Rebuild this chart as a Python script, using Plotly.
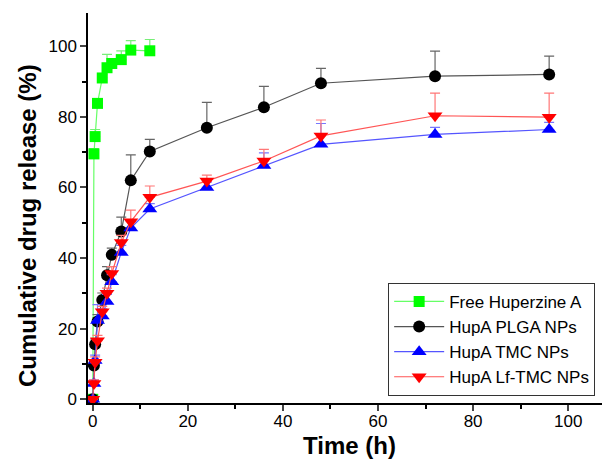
import plotly.graph_objects as go

# ---- data ----
times_free = [0, 0.25, 0.5, 1, 2, 3, 4, 6, 8, 12]
free_huperzine = [0, 69.5, 74.4, 83.8, 91.0, 93.9, 95.1, 96.2, 98.9, 98.7]
free_err = [0, 1.5, 2.0, 1.0, 1.0, 3.8, 1.0, 2.5, 2.7, 3.2]

times_np = [0, 0.25, 0.5, 1, 2, 3, 4, 6, 8, 12, 24, 36, 48, 72, 96]
plga = [0, 9.6, 15.6, 22.0, 28.1, 35.1, 40.9, 47.5, 62.0, 70.2, 76.9, 82.7, 89.5, 91.5, 92.0]
plga_err = [0, 1.0, 1.5, 2.0, 2.0, 2.5, 1.9, 4.1, 7.2, 3.4, 7.2, 5.9, 4.2, 7.1, 5.2]
tmc = [0, 4.5, 11.0, 22.3, 23.6, 27.7, 33.3, 41.6, 48.5, 53.9, 60.0, 66.2, 72.2, 75.0, 76.4]
tmc_err = [0, 1.0, 1.5, 4.5, 2.0, 2.0, 2.0, 2.0, 2.0, 1.5, 1.5, 3.6, 5.9, 2.0, 2.0]
lf_tmc = [0, 4.5, 10.5, 16.6, 24.8, 30.0, 35.6, 44.4, 50.3, 57.2, 61.8, 67.5, 74.6, 80.3, 79.9]
lf_tmc_err = [0, 1.0, 1.5, 1.5, 1.5, 1.5, 2.0, 2.0, 3.3, 3.2, 1.7, 3.3, 4.5, 6.4, 6.8]

series_names = ["Free Huperzine A", "HupA PLGA NPs", "HupA TMC NPs", "HupA Lf-TMC NPs"]
x_ticks = [0, 20, 40, 60, 80, 100]
y_ticks = [0, 20, 40, 60, 80, 100]
x_title = "Time (h)"
y_title = "Cumulative drug release (%)"

FONT = "Liberation Sans, Arial, sans-serif"

fig = go.Figure()

def add(x, y, err, name, marker_color, line_color, err_color, symbol, size):
    fig.add_trace(go.Scatter(
        x=x, y=y, name=name, mode="lines+markers",
        line=dict(color=line_color, width=1.2),
        marker=dict(color=marker_color, symbol=symbol, size=size, line=dict(width=0)),
        error_y=dict(type="data", symmetric=False, array=err, arrayminus=[0] * len(err),
                     color=err_color, thickness=1.2, width=5),
    ))

add(times_free, free_huperzine, free_err, series_names[0], "#00ff00", "#66ff66", "#77ee77", "square", 11)
add(times_np, plga, plga_err, series_names[1], "#000000", "#555555", "#666666", "circle", 12)
add(times_np, tmc, tmc_err, series_names[2], "#0000ff", "#5555ff", "#7777ff", "triangle-up", 13)
add(times_np, lf_tmc, lf_tmc_err, series_names[3], "#ff0000", "#ff5555", "#ff7777", "triangle-down", 13)

fig.update_layout(
    width=602, height=456,
    margin=dict(l=80, r=0, t=5, b=61),
    paper_bgcolor="white", plot_bgcolor="white",
    font=dict(family=FONT, size=17, color="#000000"),
    legend=dict(x=0.575, y=0.308, xanchor="left", yanchor="top",
                bordercolor="#333333", borderwidth=1, bgcolor="white",
                font=dict(family=FONT, size=17), tracegroupgap=0, itemwidth=50),
    showlegend=True,
    annotations=[
        dict(text="<b>" + x_title + "</b>", xref="paper", yref="paper", x=0.5, y=-0.108,
             xanchor="center", yanchor="middle", showarrow=False, font=dict(size=24)),
        dict(text="<b>" + y_title + "</b>", xref="paper", yref="paper", x=-0.117, y=0.456,
             xanchor="center", yanchor="middle", showarrow=False, textangle=-90,
             font=dict(size=24)),
    ],
)
fig.update_xaxes(
    range=[-1, 108.8], tickvals=x_ticks, ticks="outside", ticklen=6, tickwidth=1.5,
    showline=True, linecolor="#000000", linewidth=1.5, showgrid=False, zeroline=False,
    minor=dict(dtick=10, tick0=0, ticks="outside", ticklen=4, tickwidth=1.5, tickcolor="#000000"),
    tickfont=dict(size=17), ticklabelstandoff=-4,
)
fig.update_yaxes(
    range=[-1.05, 109.4], tickvals=y_ticks, ticks="outside", ticklen=6, tickwidth=1.5,
    showline=True, linecolor="#000000", linewidth=1.5, showgrid=False, zeroline=False,
    minor=dict(dtick=10, tick0=0, ticks="outside", ticklen=4, tickwidth=1.5, tickcolor="#000000"),
    tickfont=dict(size=17),
)

fig.write_html("out.html")
